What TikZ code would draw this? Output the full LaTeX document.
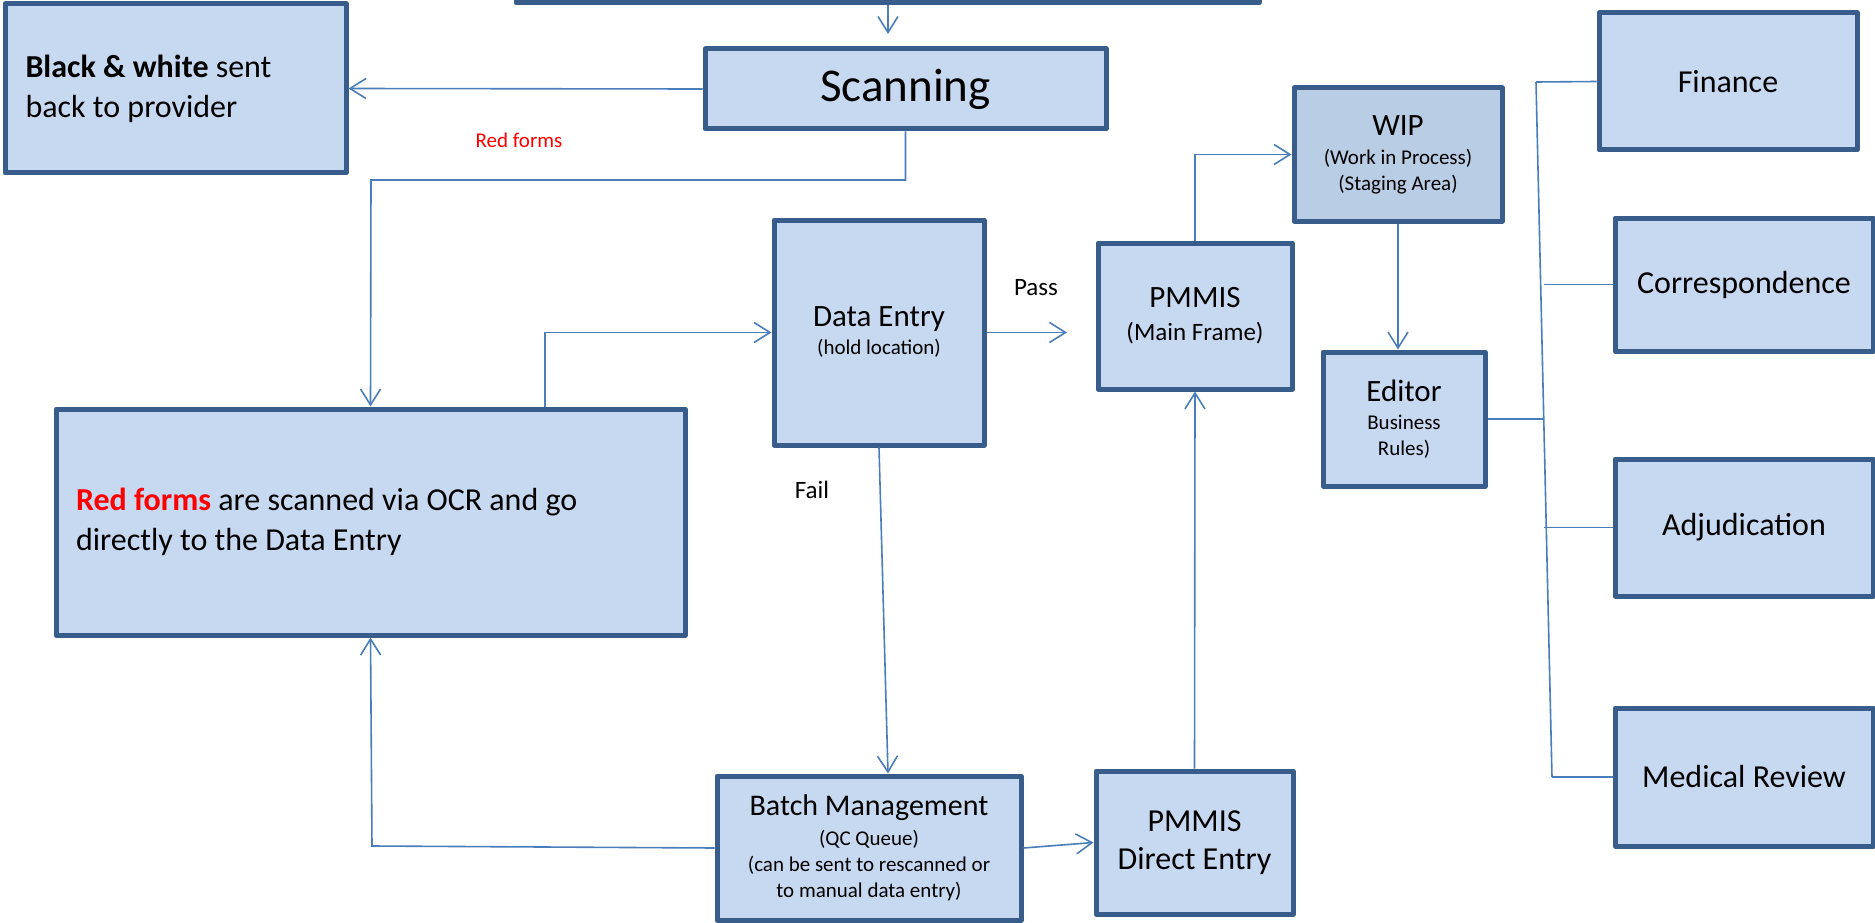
\documentclass[tikz,border=0pt]{standalone}
\usepackage{fontspec}
\setmainfont{Carlito}
\usetikzlibrary{arrows.meta,calc}
\definecolor{boxfill}{HTML}{C6D9F1}
\definecolor{wipfill}{HTML}{B9CDE5}
\definecolor{boxline}{HTML}{385D8A}
\definecolor{conncol}{HTML}{4A7EBB}
\definecolor{redtext}{HTML}{FF0000}
\begin{document}
\begin{tikzpicture}[x=1pt,y=-1pt,
  box/.style={draw=boxline, line width=5pt, fill=boxfill, rectangle, inner sep=0pt, align=center, text=black, line join=round},
  link/.style={draw=conncol, line width=1.6pt},
  arr/.style={link, -{Straight Barb[length=16pt,width=20pt]}},
  lbl/.style={inner sep=0pt, text=black}]

\useasboundingbox (0,0) rectangle (1875,923);

% boxes
\node[box, minimum width=743pt, minimum height=23pt] (top) at (887.5,-8.5) {};
\node[box, minimum width=341pt, minimum height=169pt, text width=300pt, align=flush left,
      font=\fontsize{32}{40}\selectfont] (bw) at (175.5,88.5)
      {\textbf{Black \& white} sent\\back to provider};
\node[box, minimum width=401pt, minimum height=80pt, font=\fontsize{47}{56}\selectfont] (scan) at (905.5,89) {Scanning};
\node[box, minimum width=629pt, minimum height=226pt, text width=589pt, align=flush left,
      font=\fontsize{32}{40}\selectfont] (red) at (370.5,522)
      {\textcolor{redtext}{\textbf{Red forms}} are scanned via OCR and go\\directly to the Data Entry};
\node[box, minimum width=210pt, minimum height=225pt, font=\fontsize{21}{25}\selectfont] (de) at (879,332.5)
      {{\fontsize{31}{31}\selectfont Data Entry}\\[3pt](hold location)};
\node[box, minimum width=194pt, minimum height=146pt, font=\fontsize{25}{33}\selectfont] (pm) at (1195,316)
      {{\fontsize{31}{31}\selectfont PMMIS}\\(Main Frame)};
\node[box, fill=wipfill, minimum width=208pt, minimum height=133pt, font=\fontsize{21}{26}\selectfont] (wip) at (1398,154.5)
      {{\fontsize{31}{31}\selectfont WIP}\\[3pt](Work in Process)\\(Staging Area)};
\node[box, minimum width=162pt, minimum height=134pt, font=\fontsize{21}{26}\selectfont] (ed) at (1404,419)
      {{\fontsize{31}{31}\selectfont Editor}\\[2pt]Business\\Rules)};
\node[box, minimum width=258pt, minimum height=137pt, font=\fontsize{32}{38}\selectfont] (fin) at (1728,81.5) {Finance};
\node[box, minimum width=258pt, minimum height=133pt, font=\fontsize{32}{38}\selectfont] (cor) at (1744,284.5) {Correspondence};
\node[box, minimum width=258pt, minimum height=137pt, font=\fontsize{32}{38}\selectfont] (adj) at (1744,527.5) {Adjudication};
\node[box, minimum width=258pt, minimum height=138pt, font=\fontsize{32}{38}\selectfont] (med) at (1744,777) {Medical Review};
\node[box, minimum width=304pt, minimum height=144pt, font=\fontsize{21}{26}\selectfont] (bm) at (869,848)
      {{\fontsize{30}{30}\selectfont Batch Management}\\[4pt](QC Queue)\\(can be sent to rescanned or\\to manual data entry)};
\node[box, minimum width=197pt, minimum height=143pt, font=\fontsize{32}{38}\selectfont] (pd) at (1194.5,842.5)
      {PMMIS\\Direct Entry};

% labels
\node[lbl, font=\fontsize{25}{30}\selectfont] (pass) at (1036,288) {Pass};
\node[lbl, font=\fontsize{25}{30}\selectfont] (fail) at (812,490) {Fail};
\node[lbl, text=redtext, font=\fontsize{21}{25}\selectfont] (redlbl) at (519,140) {Red forms};

% helper coordinates
\coordinate (scanin) at (888,34);
\coordinate (passend) at (1067,332.5);
\coordinate (k1) at (371,180);
\coordinate (x545) at (545,0);
\coordinate (x888) at (888,0);
\coordinate (k2) at (372,846);
\coordinate (sp1) at (1536,82);
\coordinate (sp2) at (1552,777);
\coordinate (bcor) at (1544,284.5);
\coordinate (badj) at (1544,527.5);
\coordinate (bed) at (1544,419);

% connectors
\draw[arr] (top.south -| scanin) -- (scanin);
\draw[arr] (scan.west) -- (bw.east);
\draw[arr] (scan.south) |- (k1) -- (red.north);
\draw[arr] (red.north -| x545) |- (de.west);
\draw[arr] (de.east) -- (passend);
\draw[arr] (de.south) -- (bm.north -| x888);
\draw[arr] (bm.west) -- (k2) -- (red.south);
\draw[arr] (bm.east) -- (pd.west);
\draw[arr] (pd.north) -- (pm.south);
\draw[arr] (pm.north) |- (wip.west);
\draw[arr] (wip.south) -- (wip.south |- ed.north);
\draw[link] (ed.east) -- (bed);
\draw[link] (sp1) -- (sp2);
\draw[link] (sp1) -- (fin.west);
\draw[link] (bcor) -- (cor.west);
\draw[link] (badj) -- (adj.west);
\draw[link] (sp2) -- (med.west);
\end{tikzpicture}
\end{document}
